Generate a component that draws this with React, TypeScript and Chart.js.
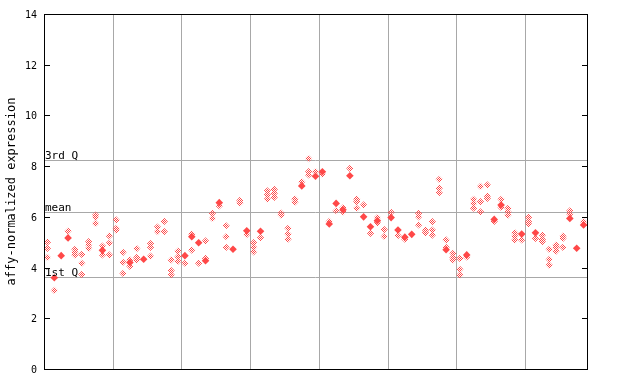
import React, { useEffect, useRef } from "react";
import { Chart, registerables } from "chart.js";

Chart.register(...registerables);

const sampleCount = 79;
const groupBoundaries = [9.5, 19.5, 29.5, 39.5, 49.5, 59.5, 69.5];
const yTickValues = [0, 2, 4, 6, 8, 10, 12, 14];
const refLabels = ["3rd Q", "mean", "1st Q"];
const refValues = [8.23, 6.2, 3.62];
const yTitle = "affy-normalized expression";

// replicate values (checkered diamonds), one list per sample
const patternedValues: number[][] = [
  [5.0, 4.76, 4.4], [3.1], [], [5.44], [4.72, 4.6, 4.5],
  [4.52, 4.17, 3.73], [5.02, 4.9, 4.76], [6.07, 5.98, 5.74], [4.85, 4.5], [5.25, 4.97, 4.5],
  [5.88, 5.55, 5.48], [4.6, 4.21, 3.77], [4.3, 4.05], [4.75, 4.4, 4.3], [],
  [4.95, 4.8, 4.45], [5.6, 5.42], [5.82, 5.42], [4.3, 3.88, 3.72], [4.65, 4.43, 4.25],
  [4.17], [5.32, 4.69], [4.17], [5.05, 4.36], [6.14, 5.94],
  [6.43], [5.65, 5.22, 4.8], [], [6.65, 6.55], [5.3],
  [4.98, 4.8, 4.62], [5.18], [7.03, 6.87, 6.7], [7.08, 6.93, 6.77], [6.15, 6.07],
  [5.55, 5.32, 5.12], [6.7, 6.58], [7.38], [8.3, 7.78, 7.65], [7.78],
  [7.68], [5.82], [6.24], [6.36, 6.2], [7.91],
  [6.7, 6.6, 6.34], [6.47], [5.35], [5.97, 5.76], [5.5, 5.23],
  [6.18], [5.26], [5.12], [], [6.14, 6.0, 5.68],
  [5.48, 5.37], [5.81, 5.48, 5.28], [7.48, 7.13, 6.95], [5.09, 4.8], [4.56, 4.4, 4.3],
  [4.36, 3.93, 3.71], [4.42], [6.69, 6.53, 6.34], [7.2, 6.6, 6.2], [7.26, 6.82, 6.73],
  [5.82], [6.69, 6.37], [6.34, 6.2, 6.07], [5.37, 5.24, 5.09], [5.09],
  [5.98, 5.81, 5.72], [5.15], [5.28, 5.11, 5.02], [4.72, 4.32, 4.1], [4.89, 4.8, 4.65],
  [5.24, 5.15, 4.8], [6.24, 6.11], [], [5.81],
];

// filled diamonds, one list per sample
const solidValues: number[][] = [
  [], [3.6], [4.47], [5.17], [],
  [], [], [], [4.68], [],
  [], [], [4.2], [], [4.33],
  [], [], [], [], [],
  [4.47], [5.22], [4.98], [4.27], [],
  [6.56], [], [4.72], [], [5.45],
  [], [5.43], [], [], [],
  [], [], [7.22], [], [7.6],
  [7.78], [5.72], [6.53], [6.28], [7.62],
  [], [6.0], [5.61], [5.85], [],
  [5.97], [5.48], [5.2], [5.31], [],
  [], [], [], [4.7], [],
  [], [4.5], [], [], [],
  [5.9], [6.47], [], [], [5.32],
  [], [5.37], [], [], [],
  [], [5.94], [4.76], [5.68],
];

const RED = "#ff4848";
const GRID = "#a8a8a8";
const MONO = "'DejaVu Sans Mono', monospace";

function toPoints(lists: number[][]) {
  const pts: { x: number; y: number }[] = [];
  lists.forEach((vals, i) => vals.forEach((v) => pts.push({ x: i, y: v })));
  return pts;
}

function makePattern(): CanvasPattern | string {
  const c = document.createElement("canvas");
  c.width = 2;
  c.height = 2;
  const g = c.getContext("2d");
  if (!g) return RED;
  g.fillStyle = RED;
  g.fillRect(0, 0, 1, 1);
  g.fillRect(1, 1, 1, 1);
  const p = g.createPattern(c, "repeat");
  return p || RED;
}

const framePlugin = {
  id: "framePlugin",
  beforeDatasetsDraw(chart: any) {
    const { ctx, chartArea } = chart;
    const xs = chart.scales.x;
    const ys = chart.scales.y;
    ctx.save();
    ctx.strokeStyle = GRID;
    ctx.lineWidth = 1;
    ctx.beginPath();
    groupBoundaries.forEach((b) => {
      const px = Math.round(xs.getPixelForValue(b)) + 0.5;
      ctx.moveTo(px, chartArea.top);
      ctx.lineTo(px, chartArea.bottom);
    });
    refValues.forEach((v) => {
      const py = Math.round(ys.getPixelForValue(v)) + 0.5;
      ctx.moveTo(chartArea.left, py);
      ctx.lineTo(chartArea.right, py);
    });
    ctx.stroke();
    ctx.restore();
  },
  afterDatasetsDraw(chart: any) {
    const { ctx, chartArea } = chart;
    const ys = chart.scales.y;
    const L = Math.round(chartArea.left);
    const R = Math.round(chartArea.right);
    const T = Math.round(chartArea.top);
    const B = Math.round(chartArea.bottom);
    ctx.save();
    ctx.strokeStyle = "#000";
    ctx.lineWidth = 1;
    ctx.strokeRect(L + 0.5, T + 0.5, R - L, B - T);
    ctx.beginPath();
    yTickValues.forEach((v) => {
      const py = Math.round(ys.getPixelForValue(v)) + 0.5;
      ctx.moveTo(L, py);
      ctx.lineTo(L + 6, py);
      ctx.moveTo(R + 1, py);
      ctx.lineTo(R - 5, py);
    });
    ctx.stroke();

    ctx.fillStyle = "#000";
    ctx.font = `10px ${MONO}`;
    ctx.textAlign = "right";
    ctx.textBaseline = "middle";
    yTickValues.forEach((v) => {
      const py = Math.round(ys.getPixelForValue(v));
      ctx.fillText(String(v), L - 7, py + 1);
    });

    ctx.font = `11px ${MONO}`;
    ctx.textAlign = "left";
    ctx.textBaseline = "alphabetic";
    refValues.forEach((v, i) => {
      const py = Math.round(ys.getPixelForValue(v));
      ctx.fillText(refLabels[i], L + 1, py - 1);
    });

    ctx.save();
    ctx.translate(12, (T + B) / 2);
    ctx.rotate(-Math.PI / 2);
    ctx.textAlign = "center";
    ctx.textBaseline = "middle";
    ctx.font = `12px ${MONO}`;
    ctx.fillText(yTitle, 0, 0);
    ctx.restore();
    ctx.restore();
  },
};

export default function App() {
  const ref = useRef<HTMLCanvasElement | null>(null);
  useEffect(() => {
    if (!ref.current) return;
    const pattern = makePattern();
    const chart = new Chart(ref.current, {
      type: "scatter",
      data: {
        datasets: [
          {
            data: toPoints(patternedValues),
            pointStyle: "rectRot",
            pointRadius: 3.6,
            pointHoverRadius: 3.6,
            backgroundColor: pattern as any,
            borderWidth: 0,
          },
          {
            data: toPoints(solidValues),
            pointStyle: "rectRot",
            pointRadius: 3.8,
            pointHoverRadius: 3.8,
            backgroundColor: RED,
            borderWidth: 0,
          },
        ],
      },
      options: {
        responsive: false,
        animation: false,
        events: [],
        layout: { padding: { left: 44, right: 53, top: 14, bottom: 15 } },
        plugins: { legend: { display: false }, tooltip: { enabled: false } },
        scales: {
          x: { type: "linear", min: -0.5, max: sampleCount - 0.5, display: false },
          y: { type: "linear", min: 0, max: 14, display: false },
        },
      },
      plugins: [framePlugin],
    });
    return () => chart.destroy();
  }, []);
  return (
    <div style={{ position: "absolute", left: 0, top: 0, width: 640, height: 384, background: "#fff" }}>
      <canvas ref={ref} width={640} height={384} style={{ width: 640, height: 384, display: "block" }} />
    </div>
  );
}
